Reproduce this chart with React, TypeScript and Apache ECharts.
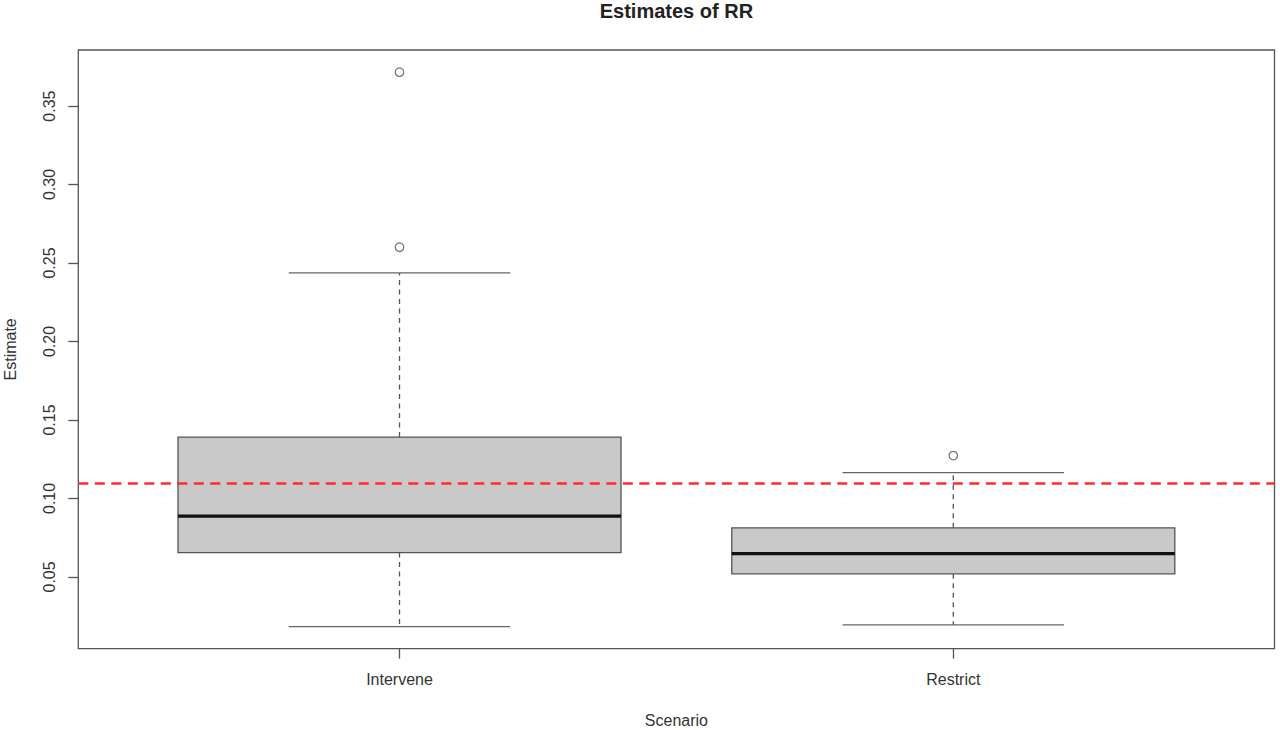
import { useRef, useEffect } from 'react'
import * as echarts from 'echarts'

// box stats per scenario
const CATEGORIES = ['Intervene', 'Restrict'];
const LOWER_WHISKER = [0.0184, 0.0195];
const Q1 = [0.0655, 0.0520];
const MEDIAN = [0.0887, 0.0649];
const Q3 = [0.1391, 0.0813];
const UPPER_WHISKER = [0.2437, 0.1165];
const OUTLIERS = [[0.3716, 0.2601], [0.1273]];
const REFERENCE_RR = 0.1085;
const Y_TICKS = [0.05, 0.10, 0.15, 0.20, 0.25, 0.30, 0.35];

const FONT = 'Liberation Sans, Arial, sans-serif';
const INK = '#333';
const BOX_WIDTH = 0.8;
const CAP_WIDTH = 0.4;

function App() {
  const chartRef = useRef<HTMLDivElement>(null);

  useEffect(() => {
    if (!chartRef.current) return;
    const myChart = echarts.init(chartRef.current, null, { renderer: 'svg' });

    // R-style axis range: data range extended by 4% each side
    const all = [...LOWER_WHISKER, ...UPPER_WHISKER, ...OUTLIERS.flat()];
    const lo = Math.min(...all);
    const hi = Math.max(...all);
    const pad = (hi - lo) * 0.04;
    const xTicks = CATEGORIES.map((_, i) => i + 1);

    const boxData = CATEGORIES.map((_, i) => [i + 1, LOWER_WHISKER[i], Q1[i], MEDIAN[i], Q3[i], UPPER_WHISKER[i]]);
    const outlierData: number[][] = [];
    OUTLIERS.forEach((vals, i) => vals.forEach(v => outlierData.push([i + 1, v])));

    const option = {
      animation: false,
      textStyle: { fontFamily: FONT },
      grid: { left: 78.3, right: 5.5, top: 50, bottom: 81.3, show: true, borderColor: '#555', borderWidth: 1.3, outerBoundsMode: 'none' },
      graphic: [{
        type: 'text', x: 676.4, y: 10.5,
        style: { text: 'Estimates of RR', font: 'bold 20px ' + FONT, fill: '#222', align: 'center', verticalAlign: 'middle' }
      }],
      xAxis: {
        type: 'value', min: 0.42, max: CATEGORIES.length + 0.58,
        name: 'Scenario', nameLocation: 'middle', nameGap: 64,
        nameTextStyle: { fontSize: 16, color: INK, fontFamily: FONT },
        axisLine: { show: false, onZero: false },
        splitLine: { show: false },
        axisTick: { show: true, length: 10, customValues: xTicks, lineStyle: { color: '#555', width: 1.3 } },
        axisLabel: {
          customValues: xTicks, margin: 23, fontSize: 16, color: INK,
          formatter: (v: number) => CATEGORIES[Math.round(v) - 1] ?? ''
        }
      },
      yAxis: {
        type: 'value', min: lo - pad, max: hi + pad,
        name: 'Estimate', nameLocation: 'middle', nameGap: 60, nameRotate: 90,
        nameTextStyle: { fontSize: 16, color: INK, fontFamily: FONT },
        axisLine: { show: false, onZero: false },
        splitLine: { show: false },
        axisTick: { show: true, length: 10, customValues: Y_TICKS, lineStyle: { color: '#555', width: 1.3 } },
        axisLabel: {
          customValues: Y_TICKS, rotate: 90, margin: 21, fontSize: 16, color: INK,
          formatter: (v: number) => v.toFixed(2)
        }
      },
      series: [{
        type: 'custom',
        data: boxData,
        encode: { x: 0, y: [1, 2, 3, 4, 5] },
        z: 2,
        renderItem: (_params: any, api: any) => {
          const x = api.value(0);
          const cx = api.coord([x, 0])[0];
          const yAt = (d: number) => api.coord([x, api.value(d)])[1];
          const yLow = yAt(1), yQ1 = yAt(2), yMed = yAt(3), yQ3 = yAt(4), yHigh = yAt(5);
          const hb = api.size([BOX_WIDTH, 0])[0] / 2;
          const hc = api.size([CAP_WIDTH, 0])[0] / 2;
          const dashed = { stroke: '#555', lineWidth: 1.3, lineDash: [5, 4.5] };
          const solid = { stroke: '#666', lineWidth: 1.3 };
          return {
            type: 'group',
            children: [
              { type: 'line', shape: { x1: cx, y1: yQ3, x2: cx, y2: yHigh }, style: dashed },
              { type: 'line', shape: { x1: cx, y1: yQ1, x2: cx, y2: yLow }, style: dashed },
              { type: 'line', shape: { x1: cx - hc, y1: yHigh, x2: cx + hc, y2: yHigh }, style: solid },
              { type: 'line', shape: { x1: cx - hc, y1: yLow, x2: cx + hc, y2: yLow }, style: solid },
              { type: 'rect', shape: { x: cx - hb, y: yQ3, width: hb * 2, height: yQ1 - yQ3 }, style: { fill: '#c9c9c9', stroke: '#555', lineWidth: 1.3 } },
              { type: 'line', shape: { x1: cx - hb, y1: yMed, x2: cx + hb, y2: yMed }, style: { stroke: '#111', lineWidth: 3.3 } }
            ]
          };
        }
      }, {
        type: 'scatter',
        data: outlierData,
        symbol: 'circle',
        symbolSize: 8.5,
        z: 3,
        itemStyle: { color: 'rgba(0,0,0,0)', borderColor: '#555', borderWidth: 1.3 },
        markLine: {
          silent: true,
          symbol: 'none',
          label: { show: false },
          lineStyle: { color: '#ff2b2b', width: 2.6, type: [10, 6.5] },
          data: [{ yAxis: REFERENCE_RR }]
        }
      }]
    };
    myChart.setOption(option);

    return () => {
      myChart.dispose();
    };
  }, []);

  return (
    <div ref={chartRef} style={{ position: 'absolute', left: 0, top: 0, width: '1280px', height: '730px' }}></div>
  )
}

export default App
